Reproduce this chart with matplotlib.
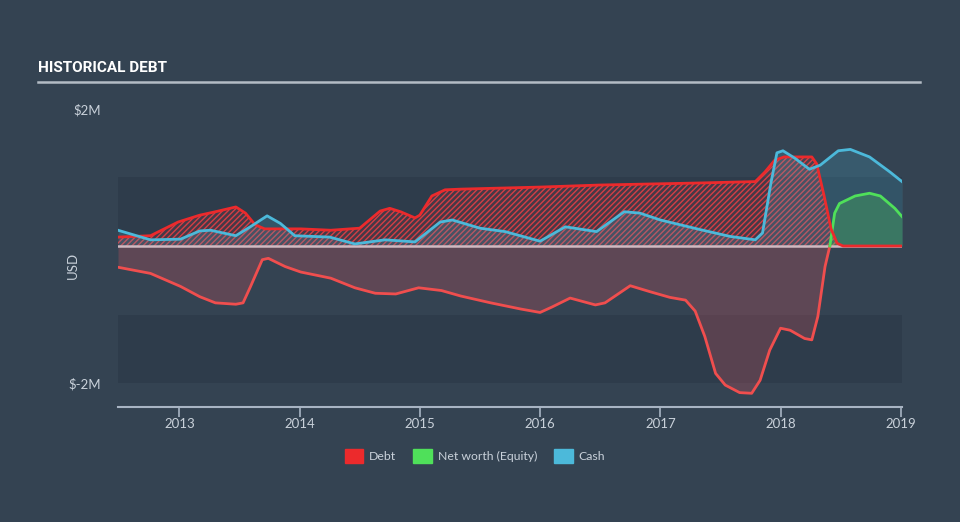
import matplotlib
matplotlib.use("Agg")
import matplotlib.pyplot as plt
from matplotlib.patches import Patch
import numpy as np

# values in $M, dates as decimal years
debt_t = [2012.49, 2012.76, 2012.99, 2013.17, 2013.30, 2013.47, 2013.55, 2013.63, 2013.71,
          2014.01, 2014.26, 2014.50, 2014.67, 2014.75, 2014.84, 2014.96, 2015.00, 2015.10,
          2015.21, 2015.34, 2016.00, 2016.50, 2017.33, 2017.79, 2017.87, 2017.95, 2018.03,
          2018.26, 2018.30, 2018.36, 2018.42, 2018.47, 2018.52, 2019.01]
debt_v = [0.13, 0.15, 0.35, 0.45, 0.50, 0.57, 0.48, 0.31, 0.25,
          0.25, 0.23, 0.26, 0.51, 0.55, 0.50, 0.41, 0.45, 0.73,
          0.82, 0.83, 0.86, 0.89, 0.92, 0.94, 1.08, 1.25, 1.30,
          1.30, 1.20, 0.75, 0.25, 0.04, 0.0, 0.0]

cash_t = [2012.49, 2012.76, 2013.01, 2013.17, 2013.26, 2013.47, 2013.59, 2013.73, 2013.84,
          2013.96, 2014.25, 2014.46, 2014.71, 2014.96, 2015.17, 2015.27, 2015.50, 2015.71,
          2016.00, 2016.21, 2016.47, 2016.70, 2016.83, 2017.00, 2017.33, 2017.58, 2017.79,
          2017.85, 2017.92, 2017.97, 2018.02, 2018.12, 2018.24, 2018.33, 2018.48, 2018.58,
          2018.74, 2018.91, 2019.01]
cash_v = [0.23, 0.09, 0.10, 0.22, 0.23, 0.15, 0.28, 0.44, 0.33,
          0.15, 0.13, 0.03, 0.09, 0.06, 0.35, 0.38, 0.26, 0.21,
          0.07, 0.28, 0.21, 0.50, 0.48, 0.38, 0.24, 0.14, 0.09,
          0.19, 0.92, 1.36, 1.39, 1.28, 1.12, 1.18, 1.39, 1.41,
          1.30, 1.08, 0.94]

equity_t = [2012.49, 2012.76, 2013.01, 2013.17, 2013.30, 2013.47, 2013.53, 2013.59, 2013.69,
            2013.74, 2013.88, 2014.01, 2014.26, 2014.46, 2014.63, 2014.80, 2014.99, 2015.18,
            2015.34, 2015.59, 2015.84, 2016.00, 2016.10, 2016.25, 2016.46, 2016.54, 2016.75,
            2016.92, 2017.08, 2017.21, 2017.29, 2017.37, 2017.46, 2017.54, 2017.66, 2017.76,
            2017.83, 2017.91, 2018.00, 2018.08, 2018.20, 2018.26, 2018.31, 2018.37, 2018.41,
            2018.45, 2018.49, 2018.62, 2018.74, 2018.83, 2018.95, 2019.01]
equity_v = [-0.31, -0.40, -0.59, -0.74, -0.83, -0.85, -0.83, -0.60, -0.20,
            -0.18, -0.30, -0.38, -0.47, -0.61, -0.69, -0.70, -0.61, -0.65,
            -0.73, -0.83, -0.92, -0.97, -0.89, -0.76, -0.86, -0.83, -0.58,
            -0.67, -0.75, -0.79, -0.95, -1.32, -1.86, -2.03, -2.14, -2.15,
            -1.96, -1.52, -1.20, -1.23, -1.35, -1.37, -1.03, -0.30, 0.0,
            0.48, 0.62, 0.73, 0.77, 0.73, 0.55, 0.43]

years = [2013, 2014, 2015, 2016, 2017, 2018, 2019]

BG = "#344352"
BAND = "#2e3c4b"
RED = "#ec2a2c"
RED2 = "#f04e4e"
GREEN = "#4fe05a"
BLUE = "#4cb9da"
TXT = "#c9d1da"

plt.rcParams["font.family"] = ["Lato", "DejaVu Sans"]
plt.rcParams["hatch.linewidth"] = 1.0

fig = plt.figure(figsize=(9.6, 5.22), dpi=100, facecolor=BG)
ax = fig.add_axes([118 / 960, (522 - 407) / 522, (902 - 118) / 960, (407 - 100) / 522])
ax.set_facecolor(BG)

x0, x1 = 2012.49, 2019.01
ax.set_xlim(x0, x1)
ax.set_ylim(-2.35, 2.131)

# background bands
ax.axhspan(0, 1, color=BAND, lw=0, zorder=0)
ax.axhspan(-2, -1, color=BAND, lw=0, zorder=0)

dt = np.array(debt_t)
dv = np.array(debt_v)
ct = np.array(cash_t)
cv = np.array(cash_v)
et = np.array(equity_t)
ev = np.array(equity_v)

# equity negative fill
ax.fill_between(et, ev, 0, where=ev <= 0, color="#dc5560", alpha=0.25, lw=0, zorder=1)
# debt hatched area
ax.fill_between(dt, dv, 0, facecolor=(0.93, 0.17, 0.17, 0.12), edgecolor=(0.93, 0.25, 0.27, 0.85),
                hatch="//////", lw=0, zorder=2)
# cash fill
ax.fill_between(ct, cv, 0, color=BLUE, alpha=0.2, lw=0, zorder=3)
# equity positive fill
ax.fill_between(et, ev, 0, where=ev >= 0, color=GREEN, alpha=0.25, lw=0, zorder=3)

ax.axhline(0, color="#cfb9c1", lw=1.8, zorder=4)

ax.plot(dt, dv, color=RED, lw=2, zorder=6, solid_joinstyle="round")
ax.plot(ct, cv, color=BLUE, lw=2, zorder=6, solid_joinstyle="round")
neg = ev <= 0
idx = np.where(neg)[0][-1]
ax.plot(et[:idx + 1], ev[:idx + 1], color=RED2, lw=2, zorder=5, solid_joinstyle="round")
ax.plot(et[idx:], ev[idx:], color=GREEN, lw=2, zorder=5, solid_joinstyle="round")

for s in ["top", "right", "left"]:
    ax.spines[s].set_visible(False)
ax.spines["bottom"].set_color("#a8b4c3")
ax.spines["bottom"].set_linewidth(1.5)

ax.set_xticks(years)
ax.set_xticklabels([str(y) for y in years])
ax.tick_params(axis="x", colors="#a8b4c3", length=7, width=1.2, labelcolor=TXT, labelsize=9.5, pad=1)
ax.set_yticks([2, -2])
ax.set_yticklabels(["$2M", "$-2M"])
ax.tick_params(axis="y", length=0, labelcolor=TXT, labelsize=9.5, pad=12)
ax.set_ylabel("USD", color=TXT, fontsize=9.5)
ax.yaxis.set_label_coords(-0.05, 0.46)

fig.text(38 / 960, 1 - 68 / 522, "HISTORICAL DEBT", color="white", fontsize=11,
         fontweight="bold", family=["Roboto", "DejaVu Sans"], va="center", ha="left")
fig.add_artist(plt.Line2D([38 / 960, 920 / 960], [1 - 82 / 522, 1 - 82 / 522],
                          color="#b3bcc5", lw=1.8))

handles = [Patch(color=RED, label="Debt"), Patch(color=GREEN, label="Net worth (Equity)"),
           Patch(color=BLUE, label="Cash")]
fig.legend(handles=handles, loc="center", bbox_to_anchor=(475 / 960, 1 - 456 / 522), ncol=3,
           frameon=False, labelcolor=TXT, fontsize=8.8, handlelength=1.5, handleheight=1.3,
           columnspacing=1.4, handletextpad=0.5)

fig.savefig("out.png", dpi=100, facecolor=BG)
